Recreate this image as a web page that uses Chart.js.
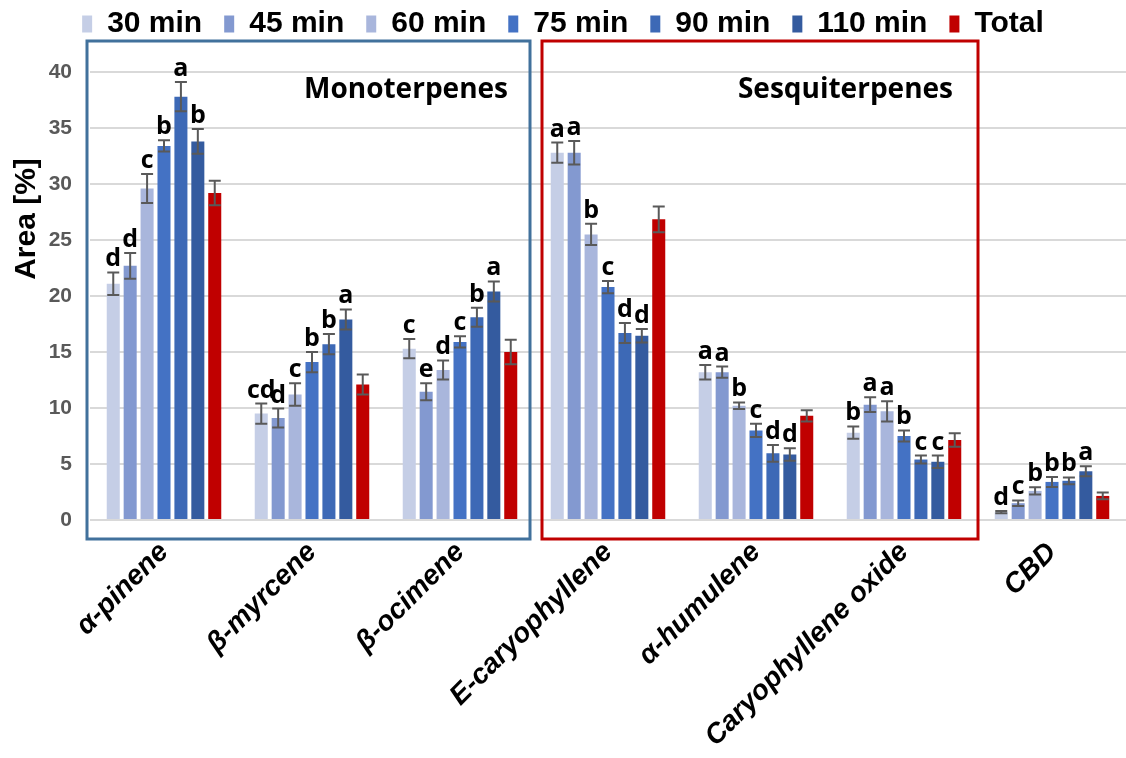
<!DOCTYPE html>
<html>
<head>
<meta charset="utf-8">
<script src="https://cdn.jsdelivr.net/npm/chart.js@4.4.1/dist/chart.umd.min.js"></script>
<style>
  html, body { margin: 0; padding: 0; background: #ffffff; }
  canvas { display: block; }
</style>
</head>
<body>
<canvas id="chart" width="1126" height="758"></canvas>
<script>
// Compounds on the x axis
const categories = ['α-pinene', 'β-myrcene', 'β-ocimene', 'E-caryophyllene', 'α-humulene', 'Caryophyllene oxide', 'CBD'];

// Series names (extraction time)
const seriesNames = ['30 min', '45 min', '60 min', '75 min', '90 min', '110 min', 'Total'];

// Mean area [%] per series
const area30  = [21.1,  9.5, 15.3, 32.8, 13.2,  7.8, 0.7];
const area45  = [22.7,  9.1, 11.45, 32.8, 13.2, 10.3, 1.5];
const area60  = [29.6, 11.2, 13.4, 25.5, 10.2,  9.7, 2.6];
const area75  = [33.4, 14.1, 15.9, 20.8,  8.0,  7.5, 3.4];
const area90  = [37.8, 15.7, 18.1, 16.7,  5.95, 5.4, 3.5];
const area110 = [33.8, 17.9, 20.4, 16.45, 5.85, 5.2, 4.35];
const areaTotal = [29.2, 12.1, 15.0, 26.85, 9.3, 7.15, 2.15];

// Standard deviations
const sd30  = [1.0, 0.9, 0.85, 0.9, 0.65, 0.55, 0.1];
const sd45  = [1.15, 0.85, 0.75, 1.05, 0.5, 0.65, 0.25];
const sd60  = [1.3, 1.0, 0.85, 0.95, 0.3, 0.9, 0.33];
const sd75  = [0.5, 0.9, 0.5, 0.55, 0.6, 0.5, 0.45];
const sd90  = [1.3, 0.9, 0.85, 0.9, 0.75, 0.35, 0.3];
const sd110 = [1.1, 0.9, 0.9, 0.6, 0.55, 0.55, 0.45];
const sdTotal = [1.1, 0.9, 1.1, 1.15, 0.5, 0.6, 0.3];

// Significance letters (no letters on the Total series)
const sig30  = ['d', 'cd', 'c', 'a', 'a', 'b', 'd'];
const sig45  = ['d', 'd', 'e', 'a', 'a', 'a', 'c'];
const sig60  = ['c', 'c', 'd', 'b', 'b', 'a', 'b'];
const sig75  = ['b', 'b', 'c', 'c', 'c', 'b', 'b'];
const sig90  = ['a', 'b', 'b', 'd', 'd', 'c', 'b'];
const sig110 = ['b', 'a', 'a', 'd', 'd', 'c', 'a'];
const sigTotal = [];

// Y axis ticks
const yTicks = [0, 5, 10, 15, 20, 25, 30, 35, 40];

const seriesValues = [area30, area45, area60, area75, area90, area110, areaTotal];
const seriesErrors = [sd30, sd45, sd60, sd75, sd90, sd110, sdTotal];
const seriesLetters = [sig30, sig45, sig60, sig75, sig90, sig110, sigTotal];
const seriesColors = ['#C5CEE6', '#8399D0', '#A9B6DC', '#4472C4', '#3D69B6', '#345B9F', '#C00000'];

const ARIAL = "'Liberation Sans', Arial, sans-serif";
const HUMANIST = "'Open Sans', 'Noto Sans', sans-serif";

// Fix the legend band height and place it near the top edge
const legendBand = {
  id: 'legendBand',
  beforeInit(chart) {
    const fit = chart.legend.fit;
    chart.legend.fit = function () {
      fit.call(this);
      this.height = 72;
    };
  },
  afterLayout(chart) {
    chart.legend.top = -13;
  }
};

// Error bars and significance letters
const errorBars = {
  id: 'errorBars',
  afterDatasetsDraw(chart) {
    const ctx = chart.ctx;
    const y = chart.scales.y;
    ctx.save();
    chart.data.datasets.forEach((ds, di) => {
      const meta = chart.getDatasetMeta(di);
      meta.data.forEach((bar, i) => {
        const v = ds.data[i];
        const e = seriesErrors[di][i];
        const yTop = y.getPixelForValue(v + e);
        const yBot = y.getPixelForValue(v - e);
        ctx.strokeStyle = '#595959';
        ctx.lineWidth = 2;
        ctx.beginPath();
        ctx.moveTo(bar.x, yTop); ctx.lineTo(bar.x, yBot);
        ctx.moveTo(bar.x - 6, yTop); ctx.lineTo(bar.x + 6, yTop);
        ctx.moveTo(bar.x - 6, yBot); ctx.lineTo(bar.x + 6, yBot);
        ctx.stroke();
        const letter = seriesLetters[di][i];
        if (letter) {
          ctx.fillStyle = '#000000';
          ctx.font = 'bold 25px ' + HUMANIST;
          ctx.textAlign = 'center';
          ctx.textBaseline = 'alphabetic';
          ctx.fillText(letter, bar.x, yTop - 6);
        }
      });
    });
    ctx.restore();
  }
};

// Group frames, group titles and the y axis title
const annotations = {
  id: 'annotations',
  afterDraw(chart) {
    const ctx = chart.ctx;
    const x = chart.scales.x;
    const area = chart.chartArea;
    const boundary = (k) => (x.getPixelForValue(k - 1) + x.getPixelForValue(k)) / 2;
    const top = area.top - 31;
    const bottom = area.bottom + 19;
    ctx.save();
    ctx.lineWidth = 3;

    const monoLeft = area.left - 3;
    const monoRight = boundary(3) - 4;
    ctx.strokeStyle = '#41719C';
    ctx.strokeRect(monoLeft, top, monoRight - monoLeft, bottom - top);

    const sesqLeft = boundary(3) + 8;
    const sesqRight = boundary(6);
    ctx.strokeStyle = '#C00000';
    ctx.strokeRect(sesqLeft, top, sesqRight - sesqLeft, bottom - top);

    ctx.fillStyle = '#000000';
    ctx.font = 'bold 28px ' + HUMANIST;
    ctx.textAlign = 'right';
    ctx.textBaseline = 'alphabetic';
    ctx.fillText('Monoterpenes', monoRight - 22, area.top + 26);
    ctx.fillText('Sesquiterpenes', sesqRight - 25, area.top + 26);

    ctx.translate(27, area.top + 147);
    ctx.rotate(-Math.PI / 2);
    ctx.font = 'bold 30px ' + ARIAL;
    ctx.textAlign = 'center';
    ctx.textBaseline = 'middle';
    ctx.fillText('Area [%]', 0, 0);
    ctx.restore();
  }
};

const datasets = seriesNames.map((name, i) => ({
  label: name,
  data: seriesValues[i],
  backgroundColor: seriesColors[i],
  borderWidth: 0,
  categoryPercentage: 0.8,
  barPercentage: 0.77
}));

new Chart(document.getElementById('chart'), {
  type: 'bar',
  data: { labels: categories, datasets: datasets },
  options: {
    responsive: false,
    animation: false,
    events: [],
    layout: { padding: { left: 0, right: 0, top: 0, bottom: 0 } },
    plugins: {
      legend: {
        position: 'top',
        align: 'center',
        labels: {
          boxWidth: 10,
          boxHeight: 17,
          padding: 22,
          color: '#000000',
          font: { family: ARIAL, size: 30, weight: 'bold' }
        }
      },
      tooltip: { enabled: false }
    },
    scales: {
      x: {
        grid: { display: false },
        border: { display: false },
        ticks: {
          color: '#000000',
          font: { family: ARIAL, size: 28, weight: 'bold', style: 'italic' },
          maxRotation: 45,
          minRotation: 45,
          autoSkip: false,
          padding: 8
        },
        afterFit(scale) { scale.height = 238; }
      },
      y: {
        min: 0,
        max: 40,
        afterBuildTicks(scale) { scale.ticks = yTicks.map(v => ({ value: v })); },
        grid: { color: '#D9D9D9', lineWidth: 2, drawTicks: false },
        border: { display: false },
        ticks: {
          color: '#595959',
          font: { family: ARIAL, size: 21, weight: 'bold' },
          padding: 18
        },
        afterFit(scale) { scale.width = 90; }
      }
    }
  },
  plugins: [legendBand, errorBars, annotations]
});
</script>
</body>
</html>
